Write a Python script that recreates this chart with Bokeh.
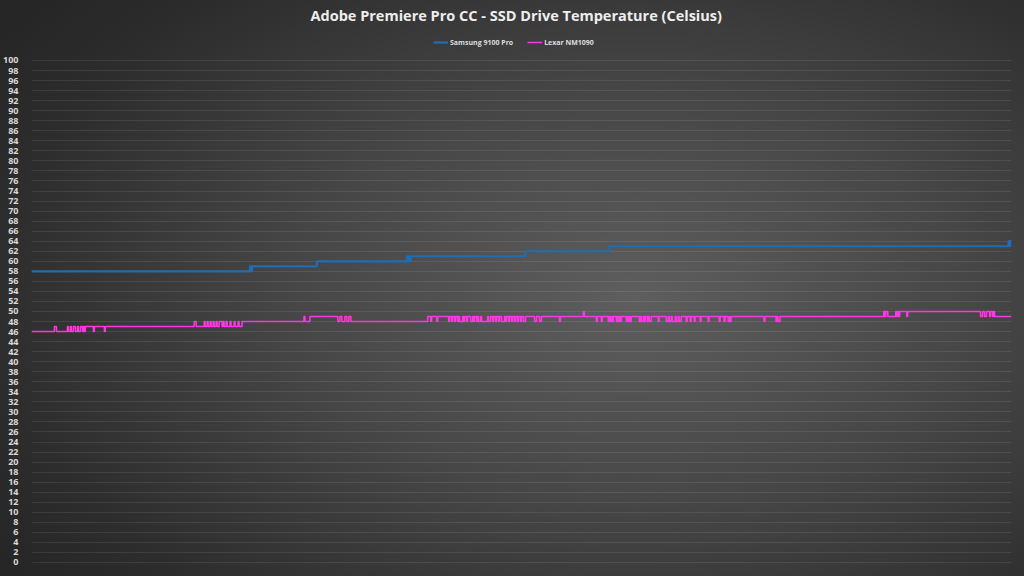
from bokeh.plotting import figure
from bokeh.models import Range1d, Legend, LegendItem, FixedTicker
from bokeh.embed import file_html
from bokeh.resources import INLINE

TITLE = "Adobe Premiere Pro CC - SSD Drive Temperature (Celsius)"
series_names = ["Samsung 9100 Pro", "Lexar NM1090"]
series_colors = ["#1f6db4", "#ff36e4"]
END_T = 982  # last sample index

# Samsung 9100 Pro: change points (sample index, temperature)
samsung_t = [0, 219, 220, 221, 286, 376, 377, 378, 379, 380, 495, 579, 979, 980, 981]
samsung_v = [58, 59, 58, 59, 60, 61, 60, 61, 60, 61, 62, 63, 64, 63, 64]

# Lexar NM1090: change points (sample index, temperature)
lexar_t = [0, 23, 25, 36, 37, 39, 40, 42, 44, 46, 47, 49, 51, 52, 53,
           54, 62, 63, 73, 74, 163, 165,
           173, 174, 176, 177, 179, 180, 182, 183, 185, 186, 188, 191, 192, 193, 195, 196, 199, 200, 203, 204, 207, 208, 211,
           273, 274, 279,
           307, 309, 311, 314, 316, 318, 320,
           397, 400, 401, 406, 407,
           418, 419, 421, 422, 424, 425, 427, 428, 429, 432, 433, 434, 436, 437, 440, 442, 443, 444,
           446, 447, 448, 450, 451, 457, 458, 460, 462, 463, 465, 466, 468, 469, 471, 474, 475, 476,
           478, 479, 481, 482, 484, 485, 487, 488, 490, 491, 493, 495,
           504, 506, 509, 511, 529, 530, 553, 554,
           566, 567, 571, 572, 578, 579, 580, 581, 582, 583, 586, 587, 588, 589, 590, 591,
           596, 597, 598, 599, 600, 601, 609, 610, 611, 613, 614, 615, 617, 618, 619, 621, 628, 629,
           636, 638, 639, 641, 642, 645, 646, 648, 649, 651,
           656, 657, 660, 661, 664, 665, 670, 671,
           678, 679, 689, 690, 694, 695, 698, 699, 700, 701,
           734, 735, 746, 747, 748, 750,
           854, 855, 856, 858,
           866, 867, 868, 869, 870, 877, 878,
           951, 953, 955, 957, 960, 961, 963, 964, 965]
lexar_v = [46, 47, 46, 47, 46, 47, 46, 47, 46, 47, 46, 47, 46, 47, 46,
           47, 46, 47, 46, 47, 48, 47,
           48, 47, 48, 47, 48, 47, 48, 47, 48, 47, 48, 47, 48, 47, 48, 47, 48, 47, 48, 47, 48, 47, 48,
           49, 48, 49,
           48, 49, 48, 49, 48, 49, 48,
           49, 48, 49, 48, 49,
           48, 49, 48, 49, 48, 49, 48, 49, 48, 49, 48, 49, 48, 49, 48, 49, 48, 49,
           48, 49, 48, 49, 48, 49, 48, 49, 48, 49, 48, 49, 48, 49, 48, 49, 48, 49,
           48, 49, 48, 49, 48, 49, 48, 49, 48, 49, 48, 49,
           48, 49, 48, 49, 48, 49, 50, 49,
           48, 49, 48, 49, 48, 49, 48, 49, 48, 49, 48, 49, 48, 49, 48, 49,
           48, 49, 48, 49, 48, 49, 48, 49, 48, 49, 48, 49, 48, 49, 48, 49, 48, 49,
           48, 49, 48, 49, 48, 49, 48, 49, 48, 49,
           48, 49, 48, 49, 48, 49, 48, 49,
           48, 49, 48, 49, 48, 49, 48, 49, 48, 49,
           48, 49, 48, 49, 48, 49,
           50, 49, 50, 49,
           50, 49, 50, 49, 50, 49, 50,
           49, 50, 49, 50, 49, 50, 49, 50, 49]

y_ticks = list(range(0, 101, 2))


def step_arrays(ts, vs, end):
    return list(ts) + [end], list(vs) + [vs[-1]]


p = figure(width=1024, height=576, output_backend="svg", toolbar_location=None,
           x_range=Range1d(0, END_T), y_range=Range1d(-0.6, 106.77),
           min_border_left=29, min_border_right=13, min_border_top=26, min_border_bottom=11)

p.styles = {"background": "radial-gradient(ellipse 75% 80% at 62% 52%, #5e5e5e 0%, #464646 45%, #2c2c2c 85%, #262626 100%)"}
p.background_fill_color = None
p.border_fill_color = None
p.outline_line_color = None

p.title.text = TITLE
p.title.align = "left"
p.title.vertical_align = "top"
p.title.text_font = "Open Sans"
p.title.text_font_style = "bold"
p.title.text_font_size = "14.5px"
p.title.text_color = "#eeeeee"
p.title.offset = 279
p.title.standoff = 0

p.xaxis.visible = False
p.xgrid.visible = False

yax = p.yaxis[0]
yax.ticker = FixedTicker(ticks=y_ticks)
yax.axis_line_color = None
yax.major_tick_line_color = None
yax.minor_tick_line_color = None
yax.major_label_text_font = "Open Sans"
yax.major_label_text_font_style = "bold"
yax.major_label_text_font_size = "9px"
yax.major_label_text_color = "#d8d8d8"
yax.major_label_standoff = 7

p.ygrid.ticker = FixedTicker(ticks=y_ticks)
p.ygrid.grid_line_color = "#ffffff"
p.ygrid.grid_line_alpha = 0.09
p.ygrid.grid_line_width = 1

sx, sy = step_arrays(samsung_t, samsung_v, END_T)
lx, ly = step_arrays(lexar_t, lexar_v, END_T)

r1 = p.step(sx, sy, mode="after", line_color=series_colors[0], line_width=2.2)
r2 = p.step(lx, ly, mode="after", line_color=series_colors[1], line_width=1.5)

legend = Legend(items=[LegendItem(label=series_names[0], renderers=[r1]),
                       LegendItem(label=series_names[1], renderers=[r2])],
                orientation="horizontal", location=(400, 516),
                label_text_font="Open Sans", label_text_font_style="bold",
                label_text_font_size="7px", label_text_color="#dddddd",
                glyph_width=15, glyph_height=8, label_standoff=2, spacing=14,
                padding=2, margin=0, background_fill_alpha=0, border_line_alpha=0,
                label_height=10)
p.add_layout(legend, "center")

open("out.html", "w").write(file_html(p, INLINE))
